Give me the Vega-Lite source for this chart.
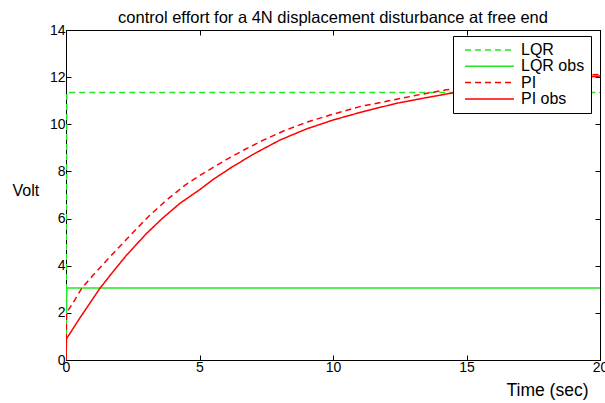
{
  "$schema": "https://vega.github.io/schema/vega-lite/v6.json",
  "width": 534,
  "height": 330,
  "autosize": "none",
  "padding": {"left": 66, "top": 30, "right": 5, "bottom": 43},
  "background": "white",
  "config": {
    "view": {"stroke": "black", "strokeWidth": 1},
    "font": "Liberation Sans"
  },
  "title": {
    "text": "control effort for a 4N displacement disturbance at free end",
    "fontSize": 16.5,
    "fontWeight": "normal",
    "font": "Liberation Sans",
    "color": "black",
    "offset": -3
  },
  "data": {
    "values": [
      {"s": "LQR", "t": 0, "v": 0},
      {"s": "LQR", "t": 0.03, "v": 11.35},
      {"s": "LQR", "t": 20, "v": 11.35},
      {"s": "LQR obs", "t": 0, "v": 0},
      {"s": "LQR obs", "t": 0.03, "v": 3.05},
      {"s": "LQR obs", "t": 20, "v": 3.05},
      {"s": "PI", "t": 0, "v": 0},
      {"s": "PI", "t": 0.02, "v": 2.0},
      {"s": "PI", "t": 0.25, "v": 2.4},
      {"s": "PI", "t": 0.59, "v": 3.04},
      {"s": "PI", "t": 1.0, "v": 3.58},
      {"s": "PI", "t": 1.65, "v": 4.38},
      {"s": "PI", "t": 2.5, "v": 5.4},
      {"s": "PI", "t": 3.1, "v": 6.1},
      {"s": "PI", "t": 3.77, "v": 6.79},
      {"s": "PI", "t": 4.46, "v": 7.42},
      {"s": "PI", "t": 5.0, "v": 7.82},
      {"s": "PI", "t": 6.0, "v": 8.5},
      {"s": "PI", "t": 6.7, "v": 8.93},
      {"s": "PI", "t": 7.39, "v": 9.33},
      {"s": "PI", "t": 8.2, "v": 9.74},
      {"s": "PI", "t": 9.07, "v": 10.11},
      {"s": "PI", "t": 9.89, "v": 10.39},
      {"s": "PI", "t": 11.0, "v": 10.75},
      {"s": "PI", "t": 12.38, "v": 11.06},
      {"s": "PI", "t": 13.3, "v": 11.27},
      {"s": "PI", "t": 14.19, "v": 11.45},
      {"s": "PI", "t": 16.0, "v": 11.72},
      {"s": "PI", "t": 18.0, "v": 11.96},
      {"s": "PI", "t": 20.0, "v": 12.12},
      {"s": "PI obs", "t": 0, "v": 0},
      {"s": "PI obs", "t": 0.02, "v": 0.9},
      {"s": "PI obs", "t": 0.5, "v": 1.75},
      {"s": "PI obs", "t": 0.9, "v": 2.42},
      {"s": "PI obs", "t": 1.27, "v": 3.04},
      {"s": "PI obs", "t": 1.75, "v": 3.73},
      {"s": "PI obs", "t": 2.27, "v": 4.45},
      {"s": "PI obs", "t": 3.0, "v": 5.35},
      {"s": "PI obs", "t": 3.6, "v": 6.0},
      {"s": "PI obs", "t": 4.27, "v": 6.65},
      {"s": "PI obs", "t": 5.0, "v": 7.22},
      {"s": "PI obs", "t": 5.5, "v": 7.65},
      {"s": "PI obs", "t": 6.14, "v": 8.13},
      {"s": "PI obs", "t": 7.0, "v": 8.72},
      {"s": "PI obs", "t": 8.01, "v": 9.33},
      {"s": "PI obs", "t": 9.0, "v": 9.8},
      {"s": "PI obs", "t": 10.0, "v": 10.18},
      {"s": "PI obs", "t": 11.2, "v": 10.56},
      {"s": "PI obs", "t": 12.38, "v": 10.89},
      {"s": "PI obs", "t": 13.4, "v": 11.11},
      {"s": "PI obs", "t": 14.38, "v": 11.31},
      {"s": "PI obs", "t": 16.0, "v": 11.6},
      {"s": "PI obs", "t": 18.0, "v": 11.85},
      {"s": "PI obs", "t": 20.0, "v": 12.05}
    ]
  },
  "layer": [
    {
      "mark": {"type": "line", "strokeWidth": 1.5, "clip": true},
      "encoding": {
        "x": {
          "field": "t", "type": "quantitative",
          "scale": {"domain": [0, 20], "nice": false, "zero": false},
          "axis": {
            "orient": "bottom", "values": [0, 5, 10, 15, 20], "grid": false,
            "title": "Time (sec)", "titleX": 481, "titleY": 30, "titleAlign": "center",
            "titleBaseline": "middle", "titleFontSize": 17.5, "titleFontWeight": "normal",
            "titleColor": "black", "labelFontSize": 14, "labelColor": "black",
            "labelFlush": false, "tickSize": -5, "labelPadding": 5,
            "domainColor": "black", "tickColor": "black"
          }
        },
        "y": {
          "field": "v", "type": "quantitative",
          "scale": {"domain": [0, 14], "nice": false, "zero": false},
          "axis": {
            "orient": "left", "values": [0, 2, 4, 6, 8, 10, 12, 14], "grid": false,
            "title": "Volt", "titleAngle": 0, "titleX": -54, "titleY": 160,
            "titleAlign": "left", "titleBaseline": "middle", "titleFontSize": 16,
            "titleFontWeight": "normal", "titleColor": "black",
            "labelFontSize": 14, "labelColor": "black", "labelFlush": false,
            "tickSize": -5, "labelPadding": 6, "domainColor": "black", "tickColor": "black"
          }
        },
        "color": {
          "field": "s", "type": "nominal",
          "scale": {"domain": ["LQR", "LQR obs", "PI", "PI obs"], "range": ["#1ee81e", "#1ee81e", "#ff0000", "#ff0000"]},
          "legend": {
            "orient": "none", "legendX": 387, "legendY": 6, "title": null,
            "strokeColor": "black", "fillColor": "white", "padding": 6,
            "symbolType": "M-0.4,0H9.4", "symbolSize": 100, "symbolStrokeWidth": 1.5,
            "labelFontSize": 16, "labelOffset": 46, "rowPadding": 0.3, "labelColor": "black"
          }
        },
        "strokeDash": {
          "field": "s", "type": "nominal",
          "scale": {"domain": ["LQR", "LQR obs", "PI", "PI obs"], "range": [[6, 4], [1, 0], [6, 4], [1, 0]]},
          "legend": {
            "orient": "none", "legendX": 387, "legendY": 6, "title": null,
            "strokeColor": "black", "fillColor": "white", "padding": 6,
            "symbolType": "M-0.4,0H9.4", "symbolSize": 100, "symbolStrokeWidth": 1.5,
            "labelFontSize": 16, "labelOffset": 46, "rowPadding": 0.3, "labelColor": "black"
          }
        }
      }
    },
    {
      "mark": {"type": "point", "opacity": 0},
      "encoding": {
        "x": {
          "field": "t", "type": "quantitative",
          "scale": {"domain": [0, 20], "nice": false, "zero": false},
          "axis": {"orient": "top", "values": [0, 5, 10, 15, 20], "grid": false, "labels": false,
                   "title": null, "tickSize": -5, "domainColor": "black", "tickColor": "black"}
        },
        "y": {
          "field": "v", "type": "quantitative",
          "scale": {"domain": [0, 14], "nice": false, "zero": false},
          "axis": {"orient": "right", "values": [0, 2, 4, 6, 8, 10, 12, 14], "grid": false, "labels": false,
                   "title": null, "tickSize": -5, "domainColor": "black", "tickColor": "black"}
        }
      }
    }
  ],
  "resolve": {"axis": {"x": "independent", "y": "independent"}}
}
